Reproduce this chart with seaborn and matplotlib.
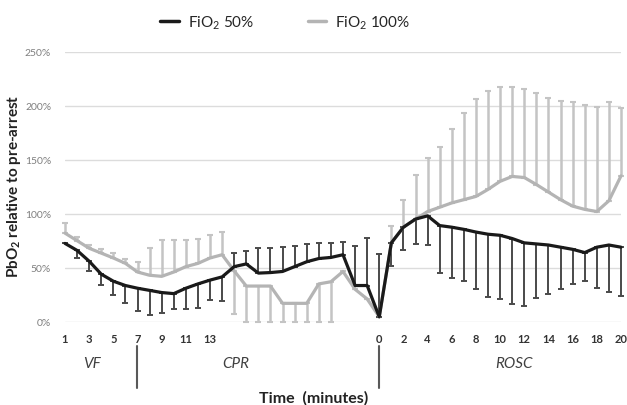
import numpy as np
import pandas as pd
import matplotlib
matplotlib.use('Agg')
import matplotlib.pyplot as plt
import seaborn as sns

# x categories: VF 1-7, CPR (continues, unlabeled after 13), ROSC 0-20
tick_labels = [str(i) for i in range(1, 14)] + [''] * 13 + [str(i) for i in range(0, 21)]

series_names = ['FiO$_2$ 50%', 'FiO$_2$ 100%']

# PbO2 relative to pre-arrest (%), FiO2 50%
fio2_50 = [72.5, 66, 56, 44, 37.5, 33.5, 31, 29, 27, 26, 31, 35, 38.5, 41.5,
           51, 53.5, 45, 45.5, 46.5, 51, 55.5, 58.5, 59.5, 62, 33.5, 33.5, 4.5,
           73, 87.5, 95, 98, 89, 87.5, 85.5, 83, 81, 80, 77, 73, 72, 71, 69, 67, 64, 69, 71, 69]
fio2_50_lo = [0, 7, 9.5, 10, 13, 16.5, 21, 22.5, 19, 14, 19, 22.5, 18, 22,
              0, 0, 0, 0, 0, 0, 0, 0, 0, 0, 0, 0, 0,
              21, 21.5, 23, 27, 44, 47, 48, 53, 58, 59, 60.5, 58, 50.5, 45.5, 39, 32.5, 26.5, 37.5, 43.5, 45.5]
fio2_50_hi = [0] * 14 + [12.5, 12, 23.5, 23, 23, 19, 16, 14, 13.5, 12, 37, 44, 58] + [0] * 20

# FiO2 100%
fio2_100 = [82, 75, 68, 63.5, 59, 54, 46, 43, 42, 46, 51, 54, 59, 62,
            47, 33, 33, 33, 17, 17, 17, 35, 37, 46.5, 30, 21, 4.5,
            73, 87.5, 95, 102, 106, 110, 113, 116, 122.5, 130, 134.5, 133.5, 127, 120, 113, 107, 104, 102, 112, 135]
fio2_100_lo = [0] * 14 + [40, 33, 33, 33, 17, 17, 17, 35, 37, 0, 0, 0, 0] + [0] * 20
fio2_100_hi = [9, 3, 3, 3.5, 4.5, 4, 9.5, 25.5, 33.5, 30, 24.5, 23, 21, 21] + [0] * 13 + \
              [16, 25, 41, 50, 56, 68.5, 80, 90, 91, 87, 83, 82, 85, 87, 91, 96, 97, 97, 91, 63]

phases = ['VF', 'CPR', 'ROSC']

BLACK = '#1a1a1a'
GREY = '#b4b4b4'

sns.set_style('white')
plt.rcParams['font.family'] = ['Lato', 'DejaVu Sans']
plt.rcParams['mathtext.default'] = 'regular'

t = np.arange(len(tick_labels))
df = pd.DataFrame({
    't': np.concatenate([t, t]),
    'value': fio2_50 + fio2_100,
    'group': [series_names[0]] * len(t) + [series_names[1]] * len(t),
})

fig = plt.figure(figsize=(6.27, 4.06), dpi=100)
ax = fig.add_axes([65 / 627, 1 - 322.7 / 406, 556 / 627, 270 / 406])

# error bars (one-sided, as in the original)
ax.errorbar(t, fio2_100, yerr=[fio2_100_lo, fio2_100_hi], fmt='none', ecolor='#c4c4c4',
            elinewidth=1.8, capsize=2, capthick=1.5, zorder=1, clip_on=False)
ax.errorbar(t, fio2_50, yerr=[fio2_50_lo, fio2_50_hi], fmt='none', ecolor='#4a4a4a',
            elinewidth=1.4, capsize=2, capthick=1.4, zorder=1.2, clip_on=False)

sns.lineplot(data=df, x='t', y='value', hue='group', hue_order=series_names[::-1],
             palette={series_names[0]: BLACK, series_names[1]: GREY},
             linewidth=2.3, ax=ax, legend=False)
for ln in ax.lines:
    ln.set_clip_on(False)

ax.set_xlim(0, 46)
ax.set_ylim(0, 250)
ax.set_yticks(range(0, 251, 50))
ax.set_yticklabels([f'{v}%' for v in range(0, 251, 50)], fontsize=7.5, color='#7f7f7f')
ax.set_xticks(t[::2])
ax.set_xticklabels(tick_labels[::2], fontsize=8, fontweight='bold', color='#333333')
ax.tick_params(length=0, pad=10, axis='y')
ax.tick_params(length=0, pad=8, axis='x')
ax.yaxis.grid(True, color='#dcdcdc', linewidth=1)
ax.set_axisbelow(True)
for s in ax.spines.values():
    s.set_visible(False)
ax.set_xlabel('')
ax.set_ylabel('')

# legend
handles = [plt.Line2D([], [], color=BLACK, linewidth=2.5),
           plt.Line2D([], [], color=GREY, linewidth=2.5)]
fig.legend(handles, series_names, loc='center', bbox_to_anchor=(0.455, 0.943), ncol=2,
           frameon=False, fontsize=11, handlelength=1.2, handletextpad=0.6, columnspacing=3.5)

# axis titles
fig.text(14 / 627, 1 - 186 / 406, 'PbO$_2$ relative to pre-arrest', rotation=90,
         ha='center', va='center', fontsize=11, fontweight='bold', color='#222222')
fig.text(314 / 627, 1 - 398 / 406, 'Time  (minutes)', ha='center', va='center',
         fontsize=11.5, fontweight='bold', color='#222222')

# phase labels and separators
for name, xpix in zip(phases, [92, 236, 514]):
    fig.text(xpix / 627, 1 - 364 / 406, name, ha='center', va='center',
             fontsize=11, style='italic', color='#404040')
for xpix in [136.7, 379]:
    fig.add_artist(plt.Line2D([xpix / 627] * 2, [1 - 347 / 406, 1 - 389 / 406],
                              color='#595959', linewidth=1.5))

fig.savefig('out.png', dpi=100)
